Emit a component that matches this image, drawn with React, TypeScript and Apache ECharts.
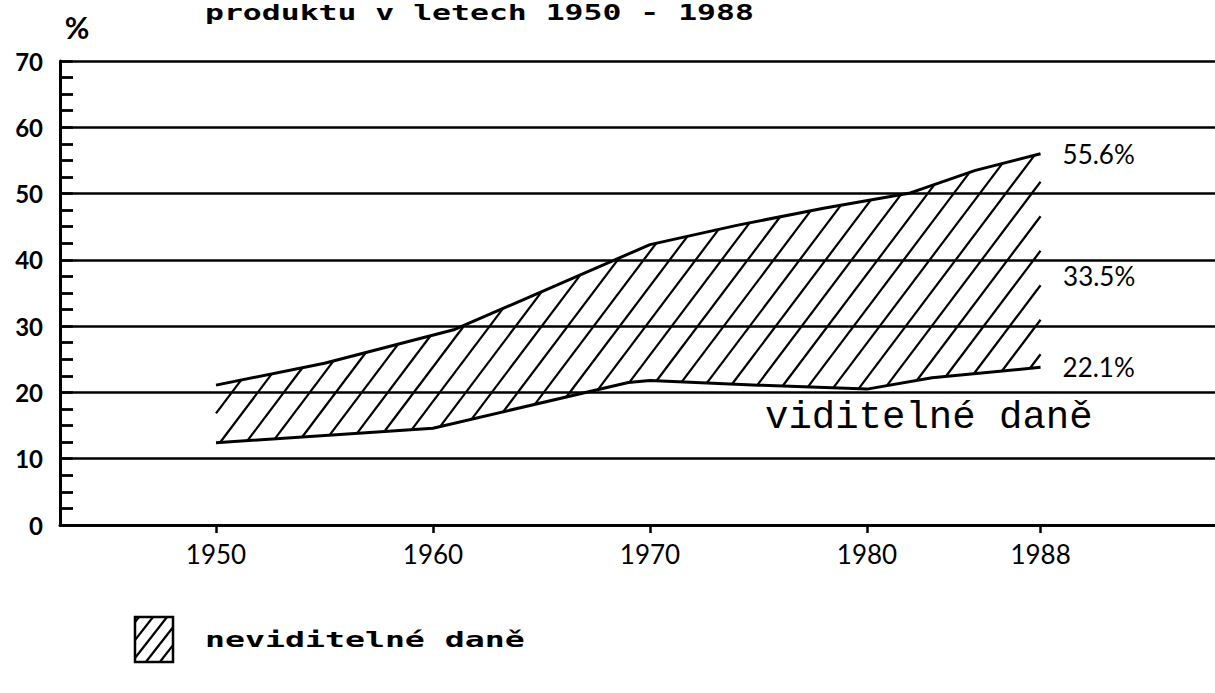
import React, { useEffect, useRef } from "react";
import * as echarts from "echarts";

// ---- data ----
const titleText = "produktu v letech 1950 - 1988";
const yUnit = "%";
const xTickYears = [1950, 1960, 1970, 1980, 1988];
// upper boundary: total taxes (% of product)
const topYears = [1950, 1955, 1961, 1970, 1974, 1978, 1982, 1985, 1988];
const topValues = [21.1, 24.4, 29.5, 42.3, 45.2, 47.8, 50.1, 53.5, 56.0];
// lower boundary: visible taxes
const bottomYears = [1950, 1960, 1969, 1970, 1975, 1980, 1983, 1988];
const bottomValues = [12.4, 14.6, 21.5, 21.8, 21.1, 20.5, 22.2, 23.8];
// end labels
const totalLabel = "55.6%";
const invisibleLabel = "33.5%";
const visibleLabel = "22.1%";
const invisibleLabelPoint = [1988, 37.5];
const visibleName = "viditelné daně";
const invisibleName = "neviditelné daně";

// axis range (years) so that the x scale matches the picture
const X_MIN = 1942.81;
const X_MAX = 1996.04;

type Pt = number[];

function hatchSegments(poly: Pt[], hSpacing: number, angleDeg: number, phase = 0) {
  const a = (angleDeg * Math.PI) / 180;
  const n = [Math.sin(a), Math.cos(a)];
  const d = [Math.cos(a), -Math.sin(a)];
  const f = (p: Pt) => n[0] * p[0] + n[1] * p[1];
  const step = hSpacing * Math.sin(a);
  let lo = Infinity, hi = -Infinity;
  poly.forEach((p) => { const v = f(p); lo = Math.min(lo, v); hi = Math.max(hi, v); });
  const segs: number[][] = [];
  for (let c = Math.floor(lo / step) * step + phase; c <= hi; c += step) {
    const pts: Pt[] = [];
    for (let i = 0; i < poly.length; i++) {
      const A = poly[i], B = poly[(i + 1) % poly.length];
      const fa = f(A) - c, fb = f(B) - c;
      if ((fa < 0 && fb >= 0) || (fa >= 0 && fb < 0)) {
        const t = fa / (fa - fb);
        pts.push([A[0] + t * (B[0] - A[0]), A[1] + t * (B[1] - A[1])]);
      }
    }
    pts.sort((p, q) => (p[0] * d[0] + p[1] * d[1]) - (q[0] * d[0] + q[1] * d[1]));
    for (let k = 0; k + 1 < pts.length; k += 2) {
      segs.push([pts[k][0], pts[k][1], pts[k + 1][0], pts[k + 1][1]]);
    }
  }
  return segs;
}

const axisFont = "Lato";

export default function App() {
  const ref = useRef<HTMLDivElement>(null);
  useEffect(() => {
    document.body.style.margin = "0";
    const chart = echarts.init(ref.current!, null, { renderer: "svg" });

    const legendBox = { x: 135, y: 617, w: 38, h: 45 };
    const legendPoly = [
      [legendBox.x, legendBox.y],
      [legendBox.x + legendBox.w, legendBox.y],
      [legendBox.x + legendBox.w, legendBox.y + legendBox.h],
      [legendBox.x, legendBox.y + legendBox.h],
    ];
    const legendHatch = hatchSegments(legendPoly, 14, 52, 4).map((s) => ({
      type: "line",
      shape: { x1: s[0], y1: s[1], x2: s[2], y2: s[3] },
      style: { stroke: "#000", lineWidth: 2.2 },
    }));

    chart.setOption({
      animation: false,
      backgroundColor: "#fff",
      grid: { left: 60, right: 0, top: 61, bottom: 168 },
      xAxis: {
        type: "value",
        min: X_MIN,
        max: X_MAX,
        axisLine: { show: true, onZero: false, lineStyle: { color: "#000", width: 3 } },
        axisTick: { show: true, customValues: xTickYears, length: 8, lineStyle: { color: "#000", width: 2.5 } },
        axisLabel: {
          customValues: xTickYears,
          formatter: (v: number) => String(v),
          margin: 16,
          fontFamily: axisFont,
          fontSize: 26,
          color: "#000",
        },
        splitLine: { show: false },
      },
      yAxis: {
        type: "value",
        min: 0,
        max: 70,
        interval: 10,
        axisLine: { show: true, lineStyle: { color: "#000", width: 3 } },
        axisTick: { show: true, inside: true, length: 13, lineStyle: { color: "#000", width: 2.5 } },
        minorTick: { show: true, splitNumber: 4, length: 13, lineStyle: { color: "#000", width: 2.8 } },
        splitLine: { show: true, lineStyle: { color: "#000", width: 2.7 } },
        axisLabel: { color: "#000", fontFamily: axisFont, fontWeight: "bold", fontSize: 24, margin: 17 },
      },
      series: [
        {
          type: "custom",
          name: invisibleName,
          coordinateSystem: "cartesian2d",
          data: [[topYears[0], topValues[0]]],
          clip: false,
          silent: true,
          z: 1,
          renderItem: (params: any, api: any) => {
            const top = topYears.map((y, i) => api.coord([y, topValues[i]]));
            const bot = bottomYears.map((y, i) => api.coord([y, bottomValues[i]])).reverse();
            const segs = hatchSegments([...top, ...bot], 26, 53, 6);
            return {
              type: "group",
              children: segs.map((s) => ({
                type: "line",
                shape: { x1: s[0], y1: s[1], x2: s[2], y2: s[3] },
                style: { stroke: "#000", lineWidth: 2.2 },
              })),
            };
          },
        },
        {
          type: "line",
          name: "total",
          data: topYears.map((y, i) => [y, topValues[i]]),
          symbol: "none",
          z: 3,
          lineStyle: { color: "#000", width: 3 },
          endLabel: {
            show: true,
            formatter: () => totalLabel,
            distance: 22,
            fontFamily: axisFont,
            fontSize: 26,
            color: "#000",
          },
        },
        {
          type: "line",
          name: visibleName,
          data: bottomYears.map((y, i) => [y, bottomValues[i]]),
          symbol: "none",
          z: 3,
          lineStyle: { color: "#000", width: 3 },
          endLabel: {
            show: true,
            formatter: () => visibleLabel,
            distance: 22,
            fontFamily: axisFont,
            fontSize: 26,
            color: "#000",
          },
          markPoint: {
            symbol: "circle",
            symbolSize: 1,
            itemStyle: { color: "rgba(0,0,0,0)" },
            data: [{ coord: invisibleLabelPoint, value: invisibleLabel }],
            label: {
              show: true,
              position: "right",
              distance: 22,
              formatter: () => invisibleLabel,
              fontFamily: axisFont,
              fontSize: 26,
              color: "#000",
            },
          },
        },
      ],
      graphic: [
        {
          type: "text",
          x: 205,
          y: 1,
          scaleX: 1.43,
          style: {
            text: titleText,
            fontFamily: "DejaVu Sans Mono",
            fontWeight: "bold",
            fontSize: 22,
            fill: "#000",
            verticalAlign: "top",
            textVerticalAlign: "top",
          },
        },
        {
          type: "text",
          x: 77,
          y: 27,
          style: {
            text: yUnit,
            fontFamily: axisFont,
            fontWeight: "bold",
            fontSize: 30,
            fill: "#000",
            align: "center",
            textAlign: "center",
            verticalAlign: "middle",
            textVerticalAlign: "middle",
          },
        },
        {
          type: "text",
          x: 765,
          y: 418,
          style: {
            text: visibleName,
            fontFamily: "Liberation Mono",
            fontSize: 39,
            fill: "#000",
            verticalAlign: "middle",
            textVerticalAlign: "middle",
          },
        },
        {
          type: "rect",
          shape: { x: legendBox.x, y: legendBox.y, width: legendBox.w, height: legendBox.h },
          style: { fill: "none", stroke: "#000", lineWidth: 2.5 },
        },
        ...legendHatch,
        {
          type: "text",
          x: 205,
          y: 640,
          scaleX: 1.51,
          style: {
            text: invisibleName,
            fontFamily: "DejaVu Sans Mono",
            fontWeight: "bold",
            fontSize: 22,
            fill: "#000",
            verticalAlign: "middle",
            textVerticalAlign: "middle",
          },
        },
      ],
    });
    return () => chart.dispose();
  }, []);
  return (
    <div
      ref={ref}
      style={{ position: "absolute", left: 0, top: 0, width: 1215, height: 693 }}
    />
  );
}
